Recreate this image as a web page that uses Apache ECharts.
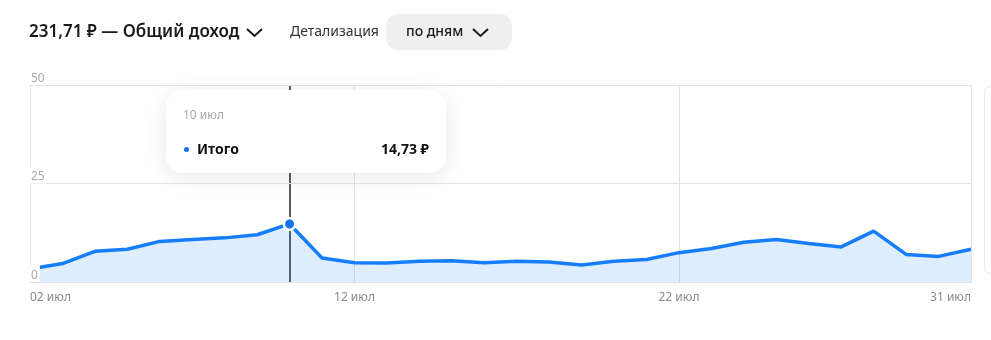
<!DOCTYPE html>
<html>
<head>
<meta charset="utf-8">
<script src="https://cdn.jsdelivr.net/npm/echarts@6/dist/echarts.min.js"></script>
<style>
  html, body { margin: 0; padding: 0; background: #fff; }
  #chart { width: 991px; height: 340px; }
</style>
</head>
<body>
<div id="chart"></div>
<script>
const categories = ['02 июл','03 июл','04 июл','05 июл','06 июл','07 июл','08 июл','09 июл','10 июл','11 июл',
  '12 июл','13 июл','14 июл','15 июл','16 июл','17 июл','18 июл','19 июл','20 июл','21 июл',
  '22 июл','23 июл','24 июл','25 июл','26 июл','27 июл','28 июл','29 июл','30 июл','31 июл'];
const totals = [3.3, 4.67, 7.8, 8.3, 10.3, 10.8, 11.2, 12.0, 14.73, 6.1,
  4.9, 4.85, 5.25, 5.4, 4.9, 5.25, 5.1, 4.3, 5.25, 5.7,
  7.45, 8.5, 10.1, 10.8, 9.8, 8.9, 12.9, 7.0, 6.5, 8.3];
const yTicks = [0, 25, 50];
const labeledIdx = [0, 10, 20, 29];
const headerTitle = '231,71 ₽ — Общий доход';
const detailLabel = 'Детализация';
const detailValue = 'по дням';
const seriesName = 'Итого';
const tipIndex = 8;

const FONT = '"Noto Sans", "DejaVu Sans", sans-serif';
const BLUE = '#1473e6';

function fmtRub(v) { return v.toFixed(2).replace('.', ',') + ' ₽'; }

const chart = echarts.init(document.getElementById('chart'), null, { renderer: 'canvas' });

chart.setOption({
  animation: false,
  textStyle: { fontFamily: FONT },
  grid: { left: 30, right: 20, top: 85, bottom: 58, containLabel: false },
  xAxis: {
    type: 'category',
    data: categories,
    boundaryGap: false,
    axisLine: { show: true, lineStyle: { color: '#cfcfcf', width: 1 } },
    axisTick: { show: false },
    axisLabel: {
      interval: (i) => labeledIdx.indexOf(i) >= 0,
      color: '#8a8a8a', fontSize: 12, margin: 10, fontFamily: FONT,
      alignMinLabel: 'left', alignMaxLabel: 'right'
    },
    splitLine: {
      show: true,
      interval: (i) => labeledIdx.indexOf(i) >= 0,
      lineStyle: { color: '#e3e3e3', width: 1 }
    }
  },
  yAxis: {
    type: 'value',
    min: yTicks[0], max: yTicks[yTicks.length - 1], interval: 25,
    z: 10,
    axisLine: { show: false },
    axisTick: { show: false },
    axisLabel: {
      inside: true, verticalAlign: 'bottom', align: 'left', margin: 0,
      color: '#ababab', fontSize: 12, lineHeight: 13, fontFamily: FONT,
      backgroundColor: '#ffffff', padding: [4, 2, 0, 1]
    },
    splitLine: { show: true, lineStyle: { color: '#e3e3e3', width: 1 } }
  },
  tooltip: {
    trigger: 'axis',
    alwaysShowContent: true,
    triggerOn: 'none',
    transitionDuration: 0,
    position: [166, 90],
    backgroundColor: '#ffffff',
    borderWidth: 0,
    padding: [17, 17, 14, 17],
    extraCssText: 'border-radius:16px; box-shadow:0 4px 22px rgba(0,0,0,0.09);',
    axisPointer: { type: 'line', lineStyle: { color: '#555b62', width: 2, type: 'solid' }, z: 1 },
    formatter: function (params) {
      const p = params[0];
      return '<div style="width:246px;font-family:' + FONT.replace(/"/g, "'") + '">' +
        '<div style="color:#a8a8a8;font-size:12px;line-height:16px;">' + p.axisValue + '</div>' +
        '<div style="display:flex;justify-content:space-between;align-items:center;margin-top:16px;line-height:20px;font-size:14px;font-weight:700;color:#111;">' +
        '<span><span style="display:inline-block;width:5px;height:5px;border-radius:50%;background:' + BLUE + ';margin:0 8px 2px 1px;vertical-align:middle;"></span>' + p.seriesName + '</span>' +
        '<span>' + fmtRub(p.value) + '</span></div></div>';
    }
  },
  series: [{
    name: seriesName,
    type: 'line',
    data: totals,
    showSymbol: false,
    symbol: 'circle',
    symbolSize: 11.5,
    lineStyle: { color: BLUE, width: 3.5 },
    itemStyle: { color: BLUE, borderColor: '#ffffff', borderWidth: 2.5 },
    areaStyle: { color: 'rgba(20,115,230,0.18)' },
    emphasis: { scale: false, focus: 'none', lineStyle: { width: 3.5 }, itemStyle: { color: BLUE, borderColor: '#fff', borderWidth: 2.5 } },
    z: 3
  }],
  graphic: [
    { type: 'text', left: 29, top: 24, style: { text: headerTitle, font: '600 17px ' + FONT, fill: '#1a1a1a' } },
    { type: 'polyline', shape: { points: [[247, 29], [254.5, 36], [262, 29]] }, style: { stroke: '#1a1a1a', lineWidth: 2, fill: null } },
    { type: 'text', left: 290, top: 25, style: { text: detailLabel, font: '400 14px ' + FONT, fill: '#333333' } },
    { type: 'rect', shape: { x: 386, y: 14, width: 126, height: 36, r: 12 }, style: { fill: '#efefef' } },
    { type: 'text', left: 406, top: 25, style: { text: detailValue, font: '500 14px ' + FONT, fill: '#1a1a1a' } },
    { type: 'polyline', shape: { points: [[473, 29], [480.5, 36], [488, 29]] }, style: { stroke: '#1a1a1a', lineWidth: 2, fill: null } },
    { type: 'rect', shape: { x: 984.5, y: 86.5, width: 30, height: 187, r: 6 }, style: { fill: null, stroke: '#e6e6e6', lineWidth: 1 } }
  ]
});

chart.setOption({ series: [{ areaStyle: { color: 'rgba(20,115,230,0.2)' } }] });
chart.dispatchAction({ type: 'showTip', seriesIndex: 0, dataIndex: tipIndex });
</script>
</body>
</html>
